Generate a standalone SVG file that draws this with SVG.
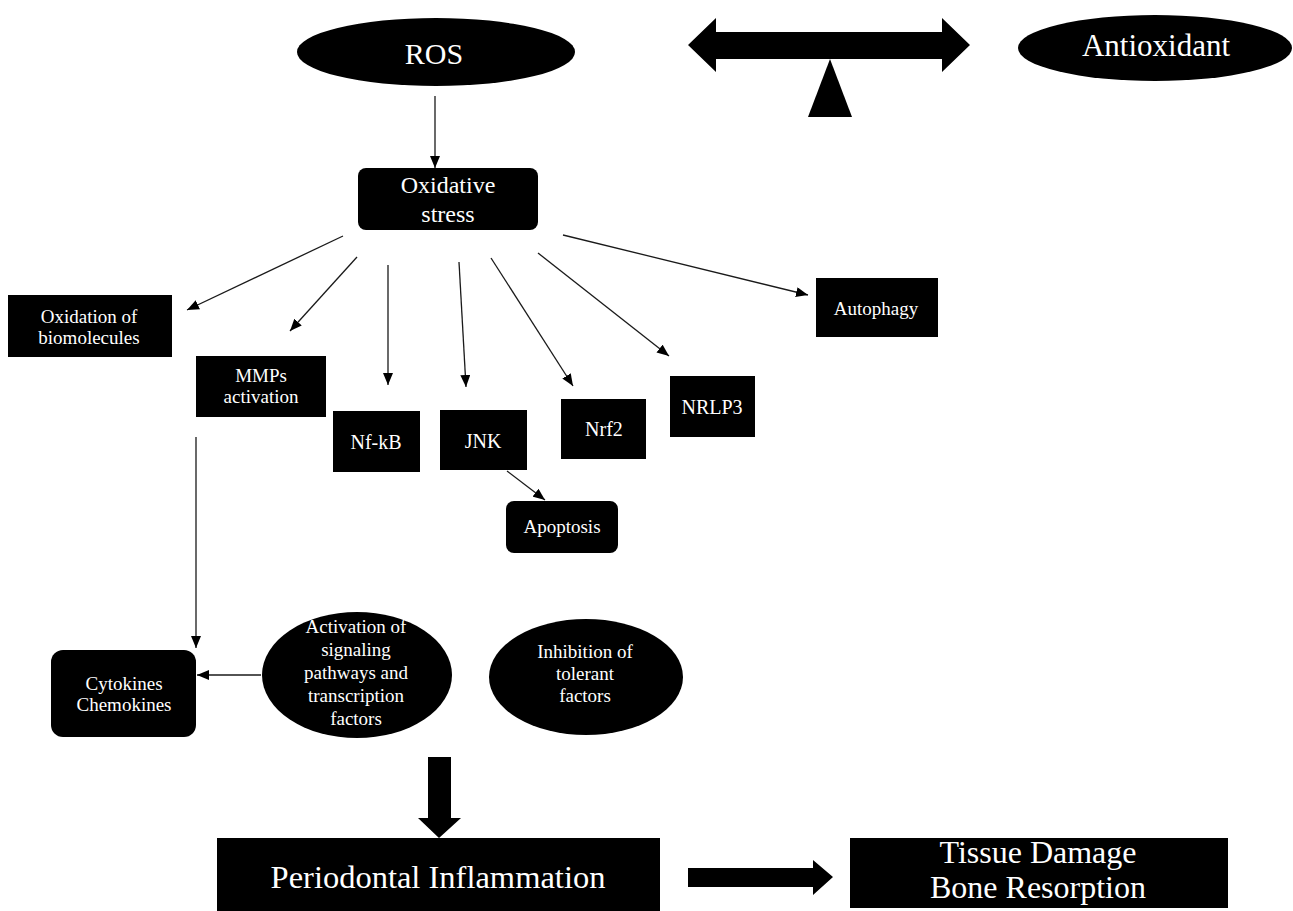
<svg xmlns="http://www.w3.org/2000/svg" width="1293" height="911" viewBox="0 0 1293 911">
<style>
.n{fill:#000}
.t{fill:#fff;font-family:"Liberation Serif","Times New Roman",serif;text-anchor:middle}
.s{font-size:19px}
.c{stroke:#1a1a1a;stroke-width:1.3;fill:none;marker-end:url(#ah)}
</style>
<defs>
<marker id="ah" markerUnits="userSpaceOnUse" markerWidth="12" markerHeight="10" refX="12" refY="5" orient="auto">
<path d="M0,0 L12,5 L0,10 z" fill="#000"/>
</marker>
</defs>
<rect width="1293" height="911" fill="#fff"/>

<g id="connectors">
<line class="c" x1="435" y1="96" x2="435" y2="168"/>
<line class="c" x1="343" y1="236" x2="187" y2="310"/>
<line class="c" x1="357" y1="257" x2="290" y2="331"/>
<line class="c" x1="388" y1="265" x2="388" y2="385"/>
<line class="c" x1="459" y1="262" x2="466" y2="387"/>
<line class="c" x1="491" y1="258" x2="573" y2="386"/>
<line class="c" x1="538" y1="253" x2="669" y2="356"/>
<line class="c" x1="563" y1="235" x2="808" y2="295"/>
<line class="c" x1="507" y1="471" x2="545" y2="500"/>
<line class="c" x1="196" y1="437" x2="196" y2="648"/>
<line class="c" x1="261" y1="675" x2="197" y2="675"/>
<polygon points="428,757 451,757 451,818 461,818 439,838 418,818 428,818" fill="#000"/>
<polygon points="688,868 813,868 813,860 833,877 813,895 813,887 688,887" fill="#000"/>
</g>

<g id="balance">
<polygon points="688,45 716,18 716,32 942,32 942,18 970,45 942,72 942,59 716,59 716,72" fill="#000"/>
<polygon points="830,59 808,117 852,117" fill="#000"/>
</g>

<g id="ros">
<ellipse class="n" cx="436" cy="52" rx="139" ry="34"/>
<text class="t" x="434" y="64" font-size="30">ROS</text>
</g>
<g id="antioxidant">
<ellipse class="n" cx="1155" cy="48" rx="137" ry="33"/>
<text class="t" x="1156" y="56" font-size="31">Antioxidant</text>
</g>
<g id="oxidative-stress">
<rect class="n" x="358" y="168" width="180" height="62" rx="8"/>
<text class="t" x="448" y="193" font-size="24">Oxidative</text>
<text class="t" x="448" y="222" font-size="24">stress</text>
</g>
<g id="oxidation">
<rect class="n" x="8" y="295" width="164" height="62"/>
<text class="t s" x="89" y="323">Oxidation of</text>
<text class="t s" x="89" y="344">biomolecules</text>
</g>
<g id="mmps">
<rect class="n" x="196" y="356" width="130" height="61"/>
<text class="t s" x="261" y="382">MMPs</text>
<text class="t s" x="261" y="403">activation</text>
</g>
<g id="nfkb">
<rect class="n" x="333" y="411" width="87" height="61"/>
<text class="t" x="376" y="449" font-size="20">Nf-kB</text>
</g>
<g id="jnk">
<rect class="n" x="440" y="410" width="87" height="60"/>
<text class="t" x="483" y="448" font-size="20">JNK</text>
</g>
<g id="nrf2">
<rect class="n" x="561" y="399" width="85" height="60"/>
<text class="t" x="604" y="436" font-size="20">Nrf2</text>
</g>
<g id="nrlp3">
<rect class="n" x="670" y="376" width="85" height="61"/>
<text class="t" x="712" y="414" font-size="20">NRLP3</text>
</g>
<g id="autophagy">
<rect class="n" x="816" y="278" width="122" height="59"/>
<text class="t s" x="876" y="315">Autophagy</text>
</g>
<g id="apoptosis">
<rect class="n" x="506" y="501" width="112" height="52" rx="8"/>
<text class="t s" x="562" y="533">Apoptosis</text>
</g>
<g id="cytokines">
<rect class="n" x="51" y="650" width="145" height="87" rx="12"/>
<text class="t s" x="124" y="690">Cytokines</text>
<text class="t s" x="124" y="711">Chemokines</text>
</g>
<g id="activation">
<ellipse class="n" cx="357" cy="675" rx="95" ry="63"/>
<text class="t s" x="356" y="633">Activation of</text>
<text class="t s" x="356" y="656">signaling</text>
<text class="t s" x="356" y="679">pathways and</text>
<text class="t s" x="356" y="702">transcription</text>
<text class="t s" x="356" y="725">factors</text>
</g>
<g id="inhibition">
<ellipse class="n" cx="586" cy="677" rx="97" ry="58"/>
<text class="t s" x="585" y="658">Inhibition of</text>
<text class="t s" x="585" y="680">tolerant</text>
<text class="t s" x="585" y="702">factors</text>
</g>
<g id="periodontal">
<rect class="n" x="217" y="838" width="443" height="73"/>
<text class="t" x="438" y="888" font-size="32.5">Periodontal Inflammation</text>
</g>
<g id="tissue">
<rect class="n" x="850" y="838" width="378" height="70"/>
<text class="t" x="1038" y="863" font-size="32">Tissue Damage</text>
<text class="t" x="1038" y="898" font-size="32">Bone Resorption</text>
</g>
</svg>
